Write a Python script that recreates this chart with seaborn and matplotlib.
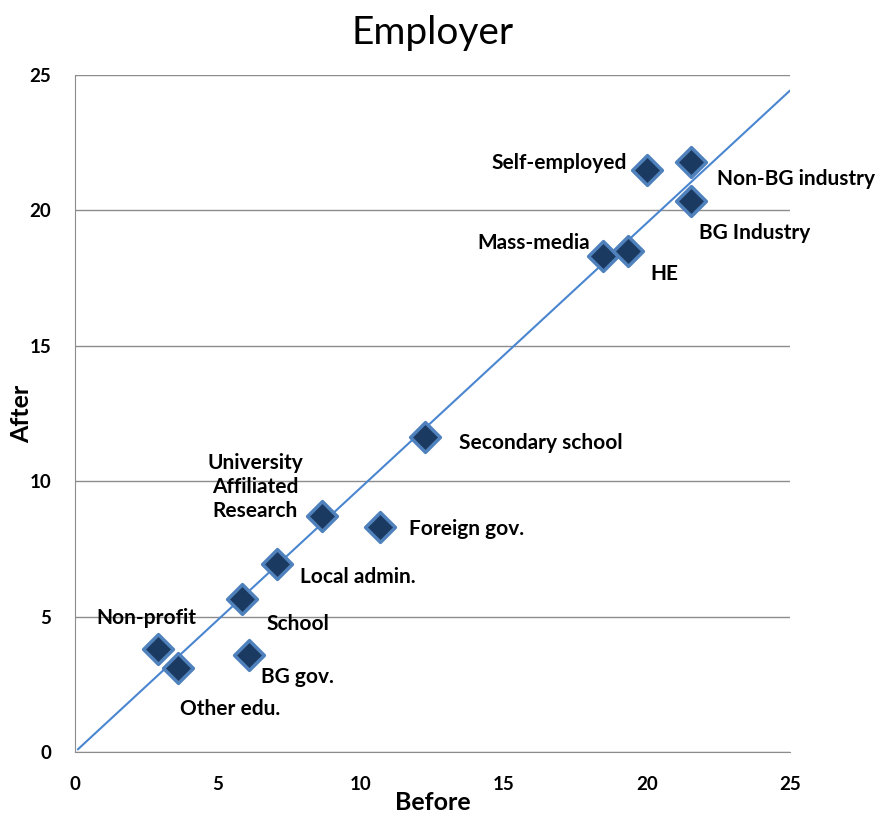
import numpy as np
import pandas as pd
import matplotlib
matplotlib.use("Agg")
import matplotlib.pyplot as plt
import seaborn as sns

# DATA
employers = ["Self-employed", "Non-BG industry", "BG Industry", "Mass-media", "HE",
             "Secondary school", "University\nAffiliated\nResearch", "Foreign gov.",
             "Local admin.", "School", "Non-profit", "Other edu.", "BG gov."]
before = [20.0, 21.55, 21.55, 18.45, 19.35, 12.25, 8.65, 10.65, 7.05, 5.85, 2.9, 3.6, 6.1]
after = [21.5, 21.8, 20.35, 18.3, 18.5, 11.65, 8.7, 8.3, 6.95, 5.65, 3.8, 3.1, 3.6]

df = pd.DataFrame({"Employer": employers, "Before": before, "After": after})

# label offsets in pixels, alignment
label_pos = {
    "Self-employed": (-20, 7, "right"),
    "Non-BG industry": (26, -17, "left"),
    "BG Industry": (8, -32, "left"),
    "Mass-media": (-13, 13, "right"),
    "HE": (22, -23, "left"),
    "Secondary school": (34, -6, "left"),
    "University\nAffiliated\nResearch": (-67, 29, "center"),
    "Foreign gov.": (29, -2, "left"),
    "Local admin.": (23, -13, "left"),
    "School": (24, -25, "left"),
    "Non-profit": (-12, 31, "center"),
    "Other edu.": (2, -41, "left"),
    "BG gov.": (12, -22, "left"),
}

sns.set_style("white")
plt.rcParams["font.family"] = ["Lato", "DejaVu Sans"]
plt.rcParams["text.color"] = "black"
plt.rcParams["axes.labelcolor"] = "black"
plt.rcParams["xtick.color"] = "black"
plt.rcParams["ytick.color"] = "black"

fig = plt.figure(figsize=(8.79, 8.13), dpi=100)
ax = fig.add_axes([0.0853, 0.075, 0.8134, 0.8327])

# linear trend line through the origin (least squares)
xs = np.asarray(before)
ys = np.asarray(after)
slope = (xs * ys).sum() / (xs * xs).sum()
line_x = np.array([0.1, 25])
sns.lineplot(x=line_x, y=slope * line_x, ax=ax, color="#4a86d0", lw=1.5)

sns.scatterplot(data=df, x="Before", y="After", ax=ax, marker="D", s=230,
                color="#1b3a62", edgecolor="#4f81bd", linewidth=2.5, zorder=3)

for name, x, y in zip(employers, before, after):
    dx, dy, ha = label_pos[name]
    ax.annotate(name, (x, y), xytext=(dx, dy), textcoords="offset pixels",
                ha=ha, va="center", fontsize=15, fontweight="bold",
                multialignment="center", linespacing=1.25)

ax.set_xlim(0, 25)
ax.set_ylim(0, 25)
ax.set_xticks(range(0, 26, 5))
ax.set_yticks(range(0, 26, 5))
ax.grid(axis="y", color="#8c8c8c", lw=1)
ax.grid(axis="x", visible=False)
ax.set_axisbelow(True)
for s in ["top", "right"]:
    ax.spines[s].set_visible(False)
for s in ["left", "bottom"]:
    ax.spines[s].set_color("#8c8c8c")
ax.tick_params(axis="both", direction="out", length=5, color="#8c8c8c",
               labelsize=13.5, pad=12)
for t in ax.get_xticklabels() + ax.get_yticklabels():
    t.set_fontweight("bold")

ax.set_title("Employer", fontsize=28, pad=22)
ax.set_xlabel("Before", fontsize=18, fontweight="bold")
ax.set_ylabel("After", fontsize=18, fontweight="bold")
ax.xaxis.set_label_coords(0.5, -0.057)
ax.yaxis.set_label_coords(-0.058, 0.5)

fig.savefig("out.png", dpi=100)
